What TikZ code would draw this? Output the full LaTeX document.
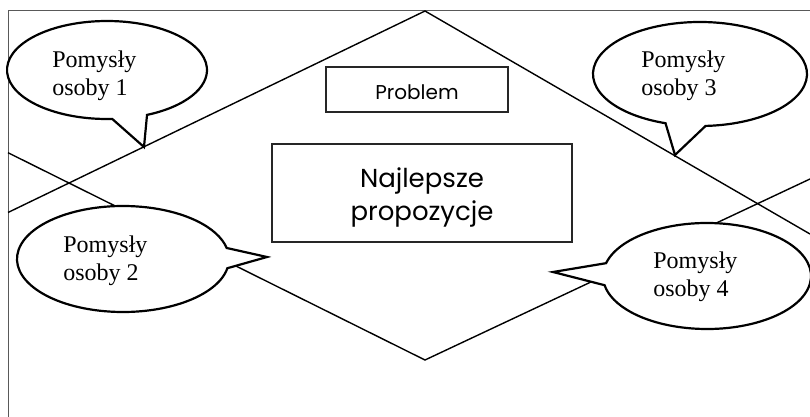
\documentclass[tikz,border=0pt]{standalone}
\usepackage{fontspec}
\setmainfont{Liberation Serif}
\newfontfamily\boxfont{Poppins}
\usetikzlibrary{calc}
\begin{document}
\begin{tikzpicture}[x=0.5pt,y=-0.5pt,
  frameline/.style={draw=black!65, line width=0.5pt},
  edge/.style={draw=black, line width=0.7pt},
  cardbox/.style={draw=black!85, line width=0.6pt, fill=white, inner sep=0pt},
  cardtext/.style={align=center, inner sep=0pt},
  bubble/.style={draw=black, line width=1.1pt, fill=white, line join=miter},
  idea/.style={font=\fontsize{12}{14}\selectfont, align=left, anchor=north west, inner sep=0pt}]
\useasboundingbox (0,0) rectangle (810,417);

% page frame (left and top edges)
\coordinate (fbl) at (8,417);
\coordinate (ftl) at (8,11);
\coordinate (ftr) at (810,11);
\draw[frameline] (fbl) -- (ftl) -- (ftr);

% the large rhombus, its side corners running off the page
\coordinate (top) at (425,11);
\coordinate (bot) at (425,360);
\coordinate (wA) at (8,212.5);
\coordinate (wC) at (8,152.7);
\coordinate (eB) at (810,234);
\coordinate (eD) at (810,179);
\draw[edge] (wA) -- (top) -- (eB);
\draw[edge] (wC) -- (bot) -- (eD);

% central boxes
\node[cardbox, cardtext, minimum width=91pt, minimum height=22.5pt,
      text height=10.5pt, text depth=0pt,
      font=\boxfont\fontsize{10}{12}\selectfont] (problem) at (417,89.5) {Problem};
\node[cardbox, minimum width=150pt, minimum height=49pt] (best) at (422,193) {};
\node[cardtext, font=\boxfont\fontsize{13}{16.5}\selectfont] (bestlabel) at (422,197.5) {Najlepsze\\propozycje};

% speech bubbles
\coordinate (c1) at (107,70);
\coordinate (k1) at (144,147);
\draw[bubble] ($(c1)+(87:100 and 49)$) arc[start angle=87, end angle=426.4, x radius=100, y radius=49] -- (k1) -- cycle;
\node[idea] (t1) at (52,50.5) {Pomysły\\osoby 1};

\coordinate (c2) at (123,259);
\coordinate (k2) at (267,257);
\draw[bubble] ($(c2)+(10:106 and 53)$) arc[start angle=10, end angle=348, x radius=106, y radius=53] -- (k2) -- cycle;
\node[idea] (t2) at (63,235.5) {Pomysły\\osoby 2};

\coordinate (c3) at (700,74);
\coordinate (k3) at (675,155);
\draw[bubble] ($(c3)+(108.8:107 and 52)$) arc[start angle=108.8, end angle=447, x radius=107, y radius=52] -- (k3) -- cycle;
\node[idea] (t3) at (641,50.5) {Pomysły\\osoby 3};

\coordinate (c4) at (707,276);
\coordinate (k4) at (553,272);
\draw[bubble] ($(c4)+(194:104 and 53)$) arc[start angle=194, end angle=530, x radius=104, y radius=53] -- (k4) -- cycle;
\node[idea] (t4) at (653,251.5) {Pomysły\\osoby 4};
\end{tikzpicture}
\end{document}
